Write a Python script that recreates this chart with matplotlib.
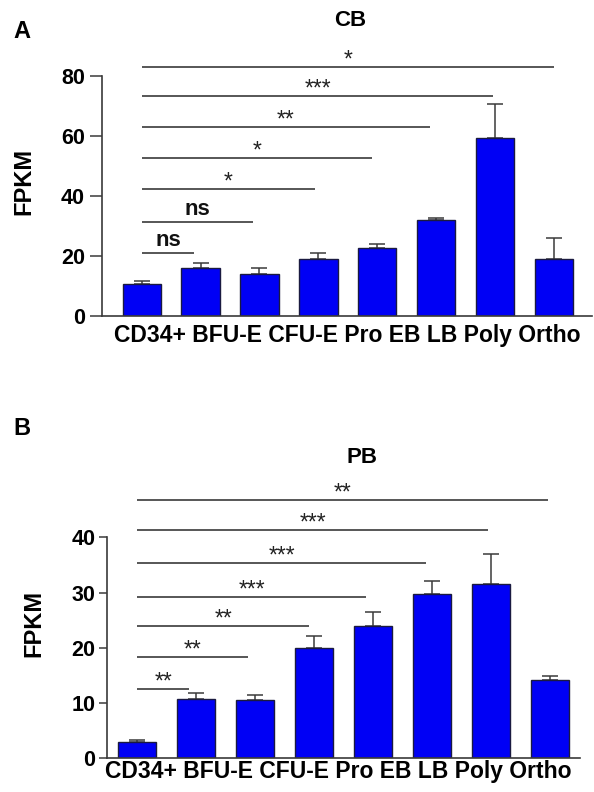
import matplotlib
matplotlib.use("Agg")
import matplotlib.pyplot as plt
from matplotlib import font_manager

# ---------------- data ----------------
categories = ["CD34+", "BFU-E", "CFU-E", "Pro", "EB", "LB", "Poly", "Ortho"]

cb_values = [10.7, 15.9, 14.0, 18.9, 22.8, 32.0, 59.4, 19.0]
cb_errors = [1.0, 1.8, 1.9, 2.0, 1.1, 0.6, 11.4, 6.9]
cb_sig_heights = [20.9, 31.2, 42.4, 52.7, 63.0, 73.2, 83.0]
cb_sig_ends = [0.89, 1.885, 2.94, 3.905, 4.895, 5.97, 6.995]
cb_sig_labels = ["ns", "ns", "*", "*", "**", "***", "*"]
cb_yticks = [0, 20, 40, 60, 80]

pb_values = [3.0, 10.7, 10.6, 20.0, 23.9, 29.8, 31.6, 14.2]
pb_errors = [0.3, 1.2, 0.9, 2.1, 2.6, 2.4, 5.4, 0.7]
pb_sig_heights = [12.6, 18.3, 24.0, 29.2, 35.3, 41.4, 46.8]
pb_sig_ends = [0.882, 1.884, 2.919, 3.881, 4.899, 5.956, 6.964]
pb_sig_labels = ["**", "**", "**", "***", "***", "***", "**"]
pb_yticks = [0, 10, 20, 30, 40]

# ---------------- fonts ----------------
def has_font(name):
    try:
        font_manager.findfont(name, fallback_to_default=False)
        return True
    except Exception:
        return False

BASE = "Liberation Sans" if has_font("Liberation Sans") else "DejaVu Sans"
plt.rcParams["font.family"] = [BASE, "DejaVu Sans"]

W, H = 594, 792
fig = plt.figure(figsize=(W / 100, H / 100), dpi=100)

BAR_COLOR = "#0000f5"
LINE_COLOR = "#3a3a3a"


def px_axes(left, right, bottom, top):
    return fig.add_axes([left / W, 1 - bottom / H, (right - left) / W, (bottom - top) / H])


def draw_panel(ax, values, errors, heights, ends, labels, yticks, ylim, xlim,
               ticklen):
    x = list(range(len(categories)))
    ax.bar(x, values, width=0.65, color=BAR_COLOR, edgecolor="#1a1a40",
           linewidth=1.0, zorder=2)
    ax.errorbar(x, values, yerr=[[0] * len(errors), errors], fmt="none",
                ecolor=LINE_COLOR, elinewidth=1.1, capsize=6, capthick=1.1,
                zorder=1)
    for h, e, lab in zip(heights, ends, labels):
        ax.plot([0, e], [h, h], color=LINE_COLOR, lw=1.2, solid_capstyle="butt",
                clip_on=False)
        if lab == "ns":
            ax.annotate(lab, (e / 2, h), xytext=(0, 5), textcoords="offset points",
                        ha="center", va="baseline", fontsize=16,
                        fontweight="bold", color="#111111", annotation_clip=False)
        else:
            ax.annotate(lab, (e / 2, h), xytext=(0, 0.3), textcoords="offset points",
                        ha="center", va="baseline", fontsize=16.5,
                        color="#222222", annotation_clip=False)
    ax.set_xlim(*xlim)
    ax.set_ylim(*ylim)
    ax.set_yticks(yticks)
    ax.set_xticks(x)
    ax.set_xticklabels([])
    ax.tick_params(axis="x", length=0)
    ax.tick_params(axis="y", length=ticklen, width=1.1, color=LINE_COLOR,
                   labelsize=15.5, pad=3)
    for t in ax.get_yticklabels():
        t.set_fontweight("bold")
    for s in ["top", "right"]:
        ax.spines[s].set_visible(False)
    ax.spines["left"].set_bounds(yticks[0], yticks[-1])
    for s in ["left", "bottom"]:
        ax.spines[s].set_color(LINE_COLOR)
        ax.spines[s].set_linewidth(1.2)
    ax.set_ylabel("FPKM", fontsize=17, fontweight="bold")


# Panel A (CB)
axA = px_axes(101.7, 592, 316, 47.4)
draw_panel(axA, cb_values, cb_errors, cb_sig_heights, cb_sig_ends, cb_sig_labels,
           cb_yticks, (0, 89.5), (-0.679, 7.645), 9)
axA.yaxis.set_label_coords(-0.136, 0.5)

# Panel B (PB)
axB = px_axes(107.3, 580, 758.3, 487.8)
draw_panel(axB, pb_values, pb_errors, pb_sig_heights, pb_sig_ends, pb_sig_labels,
           pb_yticks, (0, 49), (-0.509, 7.512), 5.5)
axB.yaxis.set_label_coords(-0.132, 0.5)

# category label rows (typeset as one line, as in the source figure)
label_row = " ".join(categories)
fig.text(347.2 / W, 1 - 341.7 / H, label_row, ha="center", va="baseline",
         fontsize=16.5, fontweight="bold")
fig.text(338.0 / W, 1 - 778.0 / H, label_row, ha="center", va="baseline",
         fontsize=16.5, fontweight="bold")

fig.text(350.3 / W, 1 - 20.7 / H, "CB", ha="center", va="center", fontsize=16,
         fontweight="bold")
fig.text(362.3 / W, 1 - 457.3 / H, "PB", ha="center", va="center", fontsize=16,
         fontweight="bold")
fig.text(21.7 / W, 1 - 31.7 / H, "A", ha="center", va="center", fontsize=17,
         fontweight="bold")
fig.text(21.7 / W, 1 - 428.3 / H, "B", ha="center", va="center", fontsize=17,
         fontweight="bold")

fig.savefig("out.png", dpi=100)
